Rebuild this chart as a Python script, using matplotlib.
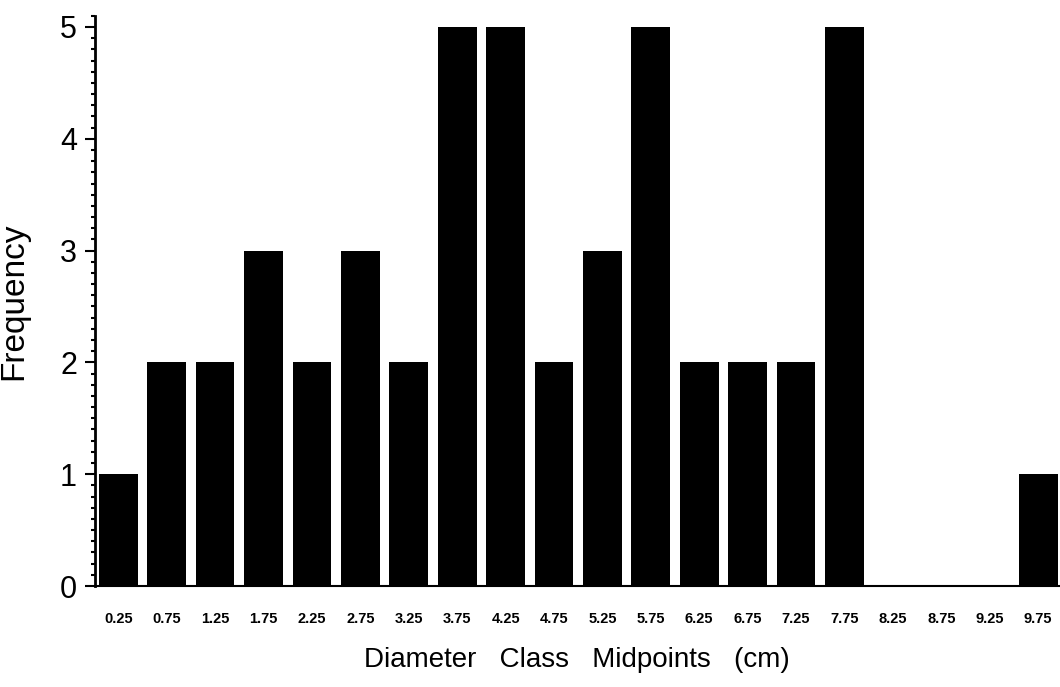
import numpy as np
import matplotlib.pyplot as plt
from matplotlib.ticker import MultipleLocator

# midpoints of diameter classes and their counts
midpoints = ['0.25', '0.75', '1.25', '1.75', '2.25', '2.75', '3.25', '3.75', '4.25', '4.75',
             '5.25', '5.75', '6.25', '6.75', '7.25', '7.75', '8.25', '8.75', '9.25', '9.75']
freq = [1, 2, 2, 3, 2, 3, 2, 5, 5, 2, 3, 5, 2, 2, 2, 5, 0, 0, 0, 1]

plt.rcParams['font.family'] = ['Liberation Sans', 'DejaVu Sans']

fig = plt.figure(figsize=(10.6, 6.87), dpi=100)
ax = fig.add_axes([0.0896, 0.147, 0.909, 0.83])

x = np.arange(len(midpoints))
ax.bar(x, freq, width=0.8, color='black')

ax.set_xlim(-0.48, 19.42)
ax.set_ylim(0, 5.1)
ax.set_xticks(x)
ax.set_xticklabels(midpoints, fontsize=10.5, fontweight='heavy')
ax.tick_params(axis='x', length=0, pad=19)
ax.yaxis.set_major_locator(MultipleLocator(1))
ax.yaxis.set_minor_locator(MultipleLocator(0.1))
ax.tick_params(axis='y', which='major', length=7, width=1.5, labelsize=22, pad=6)
ax.tick_params(axis='y', which='minor', length=3, width=1.5)

for s in ['top', 'right']:
    ax.spines[s].set_visible(False)
ax.spines['left'].set_linewidth(2)
ax.spines['bottom'].set_linewidth(1.5)

ax.set_ylabel('Frequency', fontsize=24)
ax.yaxis.set_label_coords(-0.068, 0.5)
ax.set_xlabel('Diameter   Class   Midpoints   (cm)', fontsize=20, labelpad=15)

fig.savefig('out.png', dpi=100)
